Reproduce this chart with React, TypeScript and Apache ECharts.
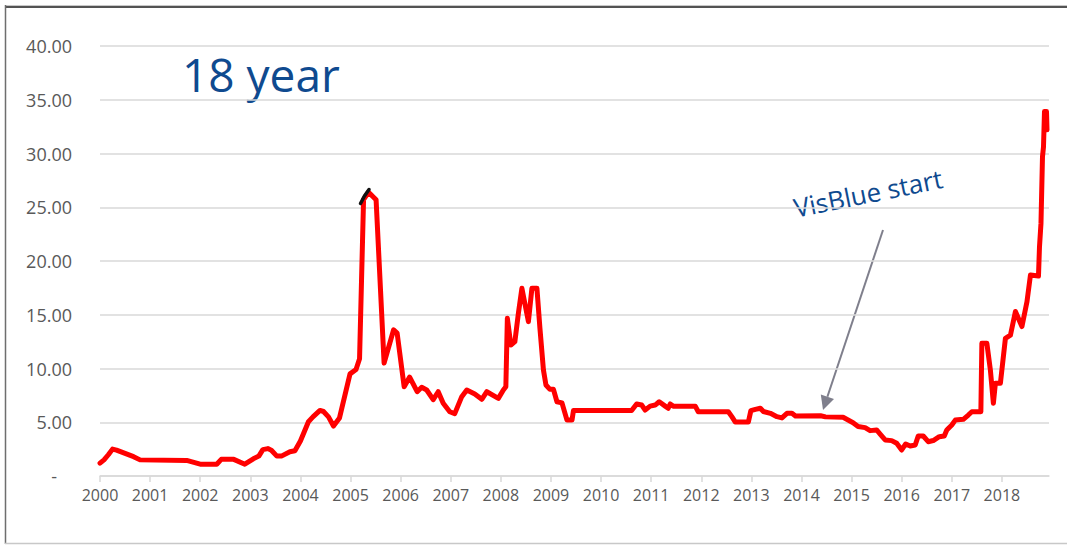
import { useEffect, useRef } from "react";
import * as echarts from "echarts";

// Observation dates as decimal years
const rateDates = [
  2000.0, 2000.08, 2000.17, 2000.25, 2000.33, 2000.5, 2000.67, 2000.8,
  2001.73, 2002.0, 2002.33, 2002.42, 2002.67, 2002.89,
  2003.06, 2003.17, 2003.25, 2003.35, 2003.42, 2003.53, 2003.62, 2003.79, 2003.89,
  2004.0, 2004.16, 2004.25, 2004.39, 2004.46, 2004.56, 2004.66, 2004.78, 2004.99,
  2005.11, 2005.18, 2005.26, 2005.36, 2005.51, 2005.67, 2005.86, 2005.93,
  2006.07, 2006.18, 2006.33, 2006.42, 2006.52, 2006.65, 2006.75, 2006.85, 2006.98,
  2007.08, 2007.22, 2007.32, 2007.48, 2007.62, 2007.72, 2007.95,
  2008.05, 2008.1, 2008.13, 2008.2, 2008.28, 2008.35, 2008.42, 2008.55, 2008.62,
  2008.72, 2008.78, 2008.85, 2008.9, 2008.98,
  2009.05, 2009.12, 2009.22, 2009.32, 2009.42, 2009.45,
  2010.61, 2010.71, 2010.81, 2010.88, 2010.98,
  2011.08, 2011.16, 2011.28, 2011.34, 2011.38, 2011.44, 2011.88, 2011.94,
  2012.54, 2012.61, 2012.68, 2012.94, 2012.99,
  2013.08, 2013.18, 2013.24, 2013.38, 2013.51, 2013.61, 2013.71, 2013.81, 2013.88,
  2014.38, 2014.48, 2014.83,
  2015.03, 2015.13, 2015.27, 2015.37, 2015.5, 2015.57, 2015.67, 2015.8, 2015.9,
  2016.0, 2016.08, 2016.17, 2016.27, 2016.33, 2016.43, 2016.53, 2016.63, 2016.75,
  2016.85, 2016.9,
  2017.0, 2017.07, 2017.23, 2017.33, 2017.4, 2017.58, 2017.6, 2017.7, 2017.77,
  2017.83, 2017.87, 2017.97,
  2018.07, 2018.17, 2018.27, 2018.4, 2018.5, 2018.57, 2018.73, 2018.75, 2018.78,
  2018.81, 2018.83, 2018.85, 2018.89, 2018.9,
];

// Rate at each observation date
const rateValues = [
  1.2, 1.5, 2.0, 2.5, 2.4, 2.1, 1.8, 1.5,
  1.45, 1.1, 1.1, 1.55, 1.55, 1.1,
  1.6, 1.85, 2.45, 2.55, 2.4, 1.85, 1.85, 2.26, 2.35,
  3.25, 5.05, 5.5, 6.1, 6.0, 5.5, 4.65, 5.4, 9.5,
  9.9, 10.9, 25.7, 26.4, 25.7, 10.5, 13.6, 13.3,
  8.3, 9.2, 7.84, 8.25, 8.0, 7.1, 7.84, 6.76, 5.98,
  5.8, 7.38, 8.0, 7.63, 7.13, 7.84, 7.22,
  8.0, 8.3, 14.67, 12.19, 12.5, 15.13, 17.46, 14.36, 17.46,
  17.46, 13.74, 9.86, 8.47, 8.06,
  8.06, 6.91, 6.8, 5.2, 5.2, 6.1,
  6.1, 6.7, 6.6, 6.14, 6.5,
  6.6, 6.91, 6.5, 6.3, 6.7, 6.5, 6.5, 5.98,
  5.98, 5.52, 5.02, 5.02, 6.08,
  6.2, 6.3, 6.0, 5.83, 5.52, 5.4, 5.83, 5.83, 5.58,
  5.6, 5.5, 5.46,
  4.96, 4.6, 4.5, 4.22, 4.28, 3.9, 3.35, 3.29, 3.04,
  2.42, 2.98, 2.79, 2.88, 3.72, 3.72, 3.19, 3.3, 3.66,
  3.72, 4.28,
  4.74, 5.2, 5.27, 5.67, 5.98, 5.98, 12.34, 12.34, 9.86,
  6.76, 8.62, 8.62,
  12.8, 13.1, 15.3, 13.9, 16.2, 18.7, 18.6, 21.3, 23.5,
  29.7, 30.6, 33.9, 33.9, 32.2,
];

const yearTicks = [
  2000, 2001, 2002, 2003, 2004, 2005, 2006, 2007, 2008, 2009,
  2010, 2011, 2012, 2013, 2014, 2015, 2016, 2017, 2018,
];

const titleText = "18 year";
const noteText = "VisBlue start";

const axisGrey = "#d9d9d9";
const labelGrey = "#595959";
const noteBlue = "#0f4a8f";

export default function App() {
  const ref = useRef<HTMLDivElement>(null);

  useEffect(() => {
    const chart = echarts.init(ref.current!, null, { renderer: "svg" });
    chart.setOption({
      animation: false,
      backgroundColor: "#ffffff",
      grid: { left: 100, right: 18, top: 46, bottom: 70 },
      xAxis: {
        type: "value",
        min: 2000,
        max: 2018.94,
        axisLine: { show: true, lineStyle: { color: axisGrey, width: 1.5 } },
        axisTick: {
          show: true,
          customValues: yearTicks,
          length: 6,
          lineStyle: { color: axisGrey, width: 1.5 },
        },
        axisLabel: {
          customValues: yearTicks,
          formatter: (v: number) => String(Math.round(v)),
          color: labelGrey,
          fontSize: 16,
          fontFamily: "Open Sans",
          margin: 11,
        },
        splitLine: { show: false },
      },
      yAxis: {
        type: "value",
        min: 0,
        max: 40,
        interval: 5,
        axisLine: { show: false },
        axisTick: { show: false },
        splitLine: { lineStyle: { color: axisGrey, width: 1.5 } },
        axisLabel: {
          formatter: (v: number) => (v === 0 ? "{d|-}" : v.toFixed(2)),
          color: labelGrey,
          fontSize: 18,
          fontFamily: "Open Sans",
          margin: 28,
          rich: {
            d: {
              color: labelGrey,
              fontSize: 18,
              fontFamily: "Open Sans",
              padding: [0, 15, 0, 0],
            },
          },
        },
      },
      series: [
        {
          type: "line",
          data: rateDates.map((d, i) => [d, rateValues[i]]),
          showSymbol: false,
          lineStyle: { color: "#ff0000", width: 5, join: "round", cap: "round" },
          z: 3,
        },
      ],
      graphic: [
        // frame
        { type: "line", shape: { x1: 5, y1: 5.5, x2: 1067, y2: 5.5 }, style: { stroke: "#c8c8c8", lineWidth: 1 } },
        { type: "line", shape: { x1: 5, y1: 7, x2: 1067, y2: 7 }, style: { stroke: "#1a1a1a", lineWidth: 1.5 } },
        { type: "line", shape: { x1: 5.5, y1: 5, x2: 5.5, y2: 544 }, style: { stroke: "#6e6e6e", lineWidth: 1.5 } },
        { type: "line", shape: { x1: 5, y1: 543.5, x2: 1067, y2: 543.5 }, style: { stroke: "#c8c8c8", lineWidth: 1.5 } },
        // title
        {
          type: "text",
          x: 182,
          y: 74,
          style: {
            text: titleText,
            font: "46px 'Open Sans'",
            fill: noteBlue,
            align: "left",
            verticalAlign: "middle",
          },
        },
        // annotation text
        {
          type: "text",
          x: 868,
          y: 193,
          rotation: 0.2,
          style: {
            text: noteText,
            font: "26px 'Open Sans'",
            fill: noteBlue,
            align: "center",
            verticalAlign: "middle",
          },
        },
        // annotation arrow
        {
          type: "line",
          shape: { x1: 883, y1: 230, x2: 827.4, y2: 396.7 },
          style: { stroke: "#7f7f8c", lineWidth: 2 },
        },
        {
          type: "polygon",
          shape: { points: [[823, 410], [834, 398.9], [820.8, 394.5]] },
          style: { fill: "#7f7f8c" },
        },
        // pen mark at the 2005 peak
        {
          type: "polyline",
          z: 10,
          shape: { points: [[360.5, 203.5], [364.5, 196], [369, 189.5]] },
          style: { stroke: "#111111", lineWidth: 3.5, lineCap: "round" },
        },
      ],
    });
    return () => chart.dispose();
  }, []);

  return (
    <div
      ref={ref}
      style={{ position: "absolute", left: 0, top: 0, width: 1067, height: 546 }}
    />
  );
}
